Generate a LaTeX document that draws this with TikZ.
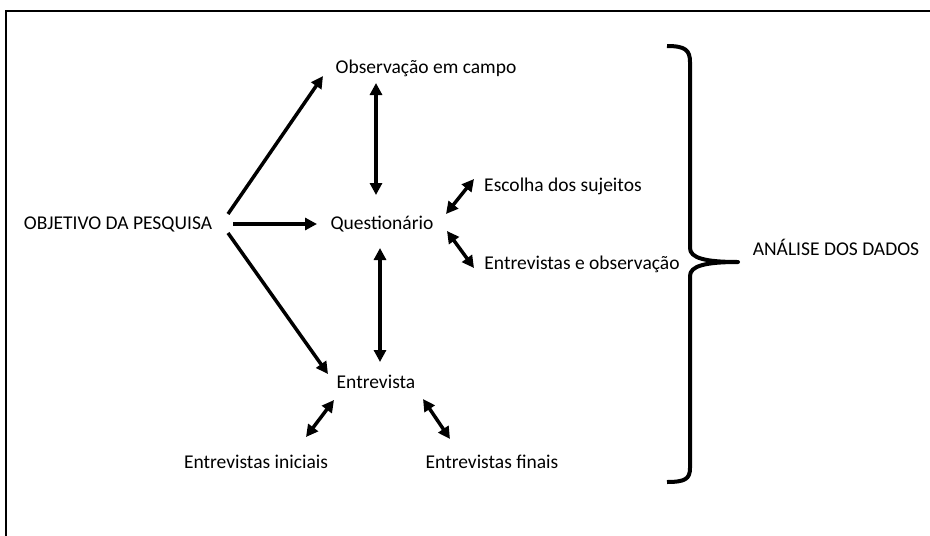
\documentclass[tikz,border=0pt]{standalone}
\usepackage{fontspec}
\setmainfont{Carlito}
\usetikzlibrary{arrows.meta}
\begin{document}
\begin{tikzpicture}[x=1pt,y=-1pt,
  lbl/.style={inner sep=0pt,font=\fontsize{19.5}{23}\selectfont},
  conn/.style={line width=3.5pt,-{Triangle[length=12pt,width=12pt]}},
  bconn/.style={line width=3.5pt,{Triangle[length=12pt,width=12pt]}-{Triangle[length=12pt,width=12pt]}},
  brace/.style={line width=4pt,line join=round}]
\useasboundingbox (0,0) rectangle (930,536);
\draw[line width=2pt] (930,11) -- (5.5,11) -- (5.5,536);

\node[lbl] (obj) at (118,224) {OBJETIVO DA PESQUISA};
\node[lbl] (obs) at (426,68) {Observação em campo};
\node[lbl] (que) at (382,224) {Questionário};
\node[lbl] (esc) at (563,186) {Escolha dos sujeitos};
\node[lbl] (eeo) at (582,264) {Entrevistas e observação};
\node[lbl] (ent) at (376,382) {Entrevista};
\node[lbl] (ini) at (256,462) {Entrevistas iniciais};
\node[lbl] (fin) at (492,462) {Entrevistas finais};
\node[lbl] (ana) at (836,247) {ANÁLISE DOS DADOS};

\coordinate (a1s) at (228,214);
\coordinate (a1e) at (323,76);
\coordinate (a2s) at (233,224);
\coordinate (a2e) at (317,224);
\coordinate (a3s) at (228,233);
\coordinate (a3e) at (328,374);
\coordinate (b1s) at (376,83);
\coordinate (b1e) at (376,195);
\coordinate (b2s) at (380,248);
\coordinate (b2e) at (380,362);
\coordinate (c1s) at (446,214);
\coordinate (c1e) at (474,179);
\coordinate (c2s) at (447,231);
\coordinate (c2e) at (474,268);
\coordinate (d1s) at (334,400);
\coordinate (d1e) at (306,437);
\coordinate (d2s) at (423,399);
\coordinate (d2e) at (450,439);

\draw[conn] (a1s) -- (a1e);
\draw[conn] (a2s) -- (a2e);
\draw[conn] (a3s) -- (a3e);
\draw[bconn] (b1s) -- (b1e);
\draw[bconn] (b2s) -- (b2e);
\draw[bconn] (c1s) -- (c1e);
\draw[bconn] (c2s) -- (c2e);
\draw[bconn] (d1s) -- (d1e);
\draw[bconn] (d2s) -- (d2e);

\coordinate (tip) at (738,262);
\draw[brace] (667,46) .. controls (685,46) and (690,50) .. (690,62)
  -- (690,248) .. controls (690,258) and (705,262) .. (tip)
  .. controls (705,262) and (690,266) .. (690,276)
  -- (690,468) .. controls (690,479) and (685,482) .. (667,482);
\end{tikzpicture}
\end{document}
